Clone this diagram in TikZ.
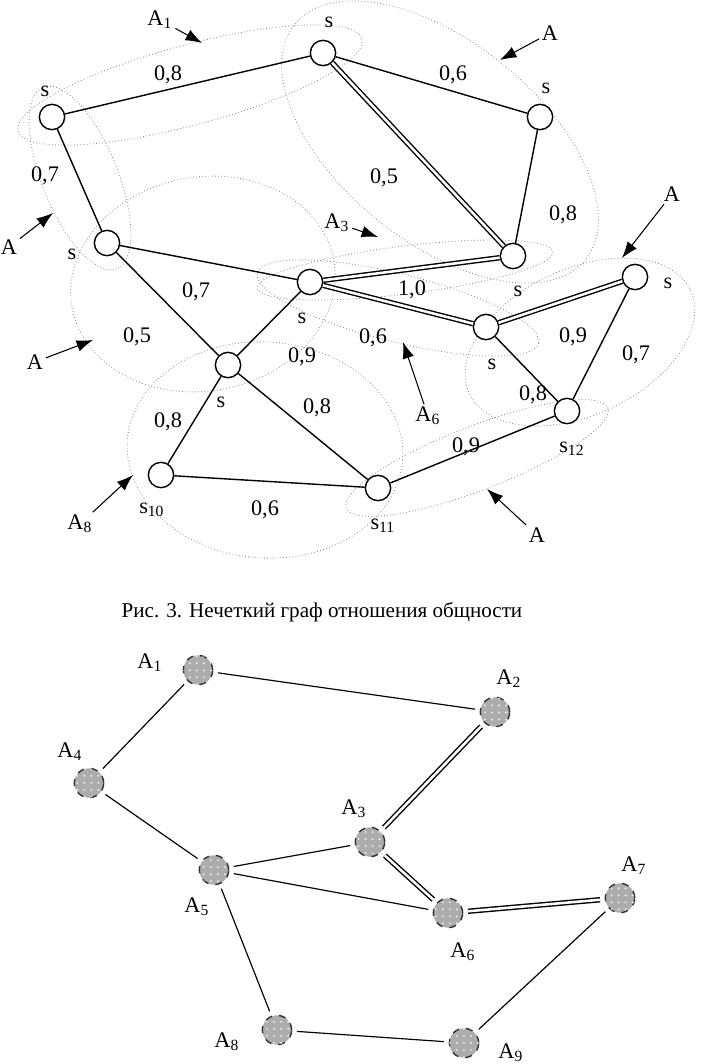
\documentclass[tikz,border=0pt]{standalone}
\usepackage{fontspec}
\setmainfont{Liberation Serif}
\usetikzlibrary{arrows.meta, patterns, calc}

\begin{document}
\begin{tikzpicture}[x=0.15mm, y=-0.15mm, font=\fontsize{9.5}{11}\selectfont, >={Latex[length=7pt,width=5pt]}]
    \tikzset{
        vert/.style={draw, circle, minimum size=3.8mm, inner sep=0pt, line width=0.6pt, fill=white},
        grp/.style={draw=black!80, circle, minimum size=4.4mm, inner sep=0pt, dashed, line width=0.6pt,
            fill=gray!65, postaction={pattern=dots, pattern color=white!80!gray}},
        set/.style={draw=gray!90, densely dotted, line width=0.35pt},
        edge/.style={draw, line width=0.6pt},
        strong/.style={draw, double, line width=0.6pt, double distance=1.1pt},
        link/.style={draw, line width=0.5pt, shorten <=2pt, shorten >=2pt},
        ptr/.style={draw, ->, line width=0.45pt},
        lbl/.style={inner sep=1pt},
    }
    \useasboundingbox (0,0) rectangle (709,1064);

    % fuzzy sets A1..A9
    \draw[set, rotate around={15:(190,85)}] (190,85) ellipse [x radius=178, y radius=40];
    \draw[set, rotate around={-39:(440,142)}] (440,142) ellipse [x radius=187, y radius=100];
    \draw[set, rotate around={7:(405,270)}] (405,270) ellipse [x radius=149, y radius=24];
    \draw[set, rotate around={-68:(80,178)}] (80,178) ellipse [x radius=98, y radius=38];
    \draw[set, rotate around={10:(203,284)}] (203,284) ellipse [x radius=133, y radius=107];
    \draw[set, rotate around={-14:(398,308)}] (398,308) ellipse [x radius=145, y radius=34];
    \draw[set, rotate around={25:(580,342)}] (580,342) ellipse [x radius=122, y radius=73];
    \draw[set, rotate around={-4:(265,450)}] (265,450) ellipse [x radius=138, y radius=108];
    \draw[set, rotate around={21:(477,458)}] (477,458) ellipse [x radius=140, y radius=32];

    % fuzzy graph
    \node[vert] (v1) at (52,117) {};
    \node[vert] (v2) at (323,53) {};
    \node[vert] (v3) at (540,117) {};
    \node[vert] (v4) at (107,243) {};
    \node[vert] (v5) at (310,282) {};
    \node[vert] (v6) at (513,256) {};
    \node[vert] (v7) at (635,277) {};
    \node[vert] (v8) at (486,327) {};
    \node[vert] (v9) at (228,365) {};
    \node[vert] (v10) at (161,475) {};
    \node[vert] (v11) at (378,488) {};
    \node[vert] (v12) at (567,411) {};

    \node[lbl] (s1) at (45,91) {s};
    \node[lbl] (s2) at (329,22) {s};
    \node[lbl] (s3) at (546,88) {s};
    \node[lbl] (s4) at (72,254) {s};
    \node[lbl] (s5) at (302,318) {s};
    \node[lbl] (s6) at (518,291) {s};
    \node[lbl] (s7) at (668,283) {s};
    \node[lbl] (s8) at (492,364) {s};
    \node[lbl] (s9) at (221,402) {s};
    \node[lbl] (s10) at (152,510) {s\textsubscript{10}};
    \node[lbl] (s11) at (383,526) {s\textsubscript{11}};
    \node[lbl] (s12) at (572,449) {s\textsubscript{12}};

    \draw[edge] (v1) -- (v2);
    \draw[edge] (v2) -- (v3);
    \draw[strong] (v2) -- (v6);
    \draw[edge] (v3) -- (v6);
    \draw[edge] (v1) -- (v4);
    \draw[edge] (v4) -- (v5);
    \draw[edge] (v4) -- (v9);
    \draw[strong] (v5) -- (v6);
    \draw[strong] (v5) -- (v8);
    \draw[edge] (v5) -- (v9);
    \draw[strong] (v8) -- (v7);
    \draw[edge] (v7) -- (v12);
    \draw[edge] (v8) -- (v12);
    \draw[edge] (v9) -- (v10);
    \draw[edge] (v9) -- (v11);
    \draw[edge] (v10) -- (v11);
    \draw[edge] (v11) -- (v12);

    \node[lbl] (w12) at (168,75) {0,8};
    \node[lbl] (w23) at (453,75) {0,6};
    \node[lbl] (w26) at (384,178) {0,5};
    \node[lbl] (w36) at (563,215) {0,8};
    \node[lbl] (w14) at (45,176) {0,7};
    \node[lbl] (w45) at (196,292) {0,7};
    \node[lbl] (w49) at (137,337) {0,5};
    \node[lbl] (w56) at (412,290) {1,0};
    \node[lbl] (w58) at (373,338) {0,6};
    \node[lbl] (w59) at (302,357) {0,9};
    \node[lbl] (w78) at (573,337) {0,9};
    \node[lbl] (w712) at (636,355) {0,7};
    \node[lbl] (w812) at (533,395) {0,8};
    \node[lbl] (w910) at (168,422) {0,8};
    \node[lbl] (w911) at (317,408) {0,8};
    \node[lbl] (w1011) at (265,510) {0,6};
    \node[lbl] (w1112) at (466,447) {0,9};

    % set names with pointers
    \node[lbl] (nA1) at (160,20) {A\textsubscript{1}};
    \node[lbl] (nA2) at (550,33) {A};
    \node[lbl] (nA3) at (337,223) {A\textsubscript{3}};
    \node[lbl] (nA4) at (9,247) {A};
    \node[lbl] (nA5) at (35,362) {A};
    \node[lbl] (nA6) at (428,416) {A\textsubscript{6}};
    \node[lbl] (nA7) at (672,194) {A};
    \node[lbl] (nA8) at (80,524) {A\textsubscript{8}};
    \node[lbl] (nA9) at (537,535) {A};
    \coordinate (tA1) at (202,43);
    \coordinate (tA2) at (500,60);
    \coordinate (tA3) at (378,237);
    \coordinate (tA4) at (53,213);
    \coordinate (tA5) at (93,340);
    \coordinate (tA6) at (403,342);
    \coordinate (tA7) at (622,258);
    \coordinate (tA8) at (133,475);
    \coordinate (tA9) at (487,489);
    \foreach \i in {1,...,9}{
        \draw[ptr] (nA\i) -- (tA\i);
    }

    \node[font=\fontsize{9}{11}\selectfont] (cap) at (322,612) {Рис. 3. Нечеткий граф отношения общности};

    % graph of the sets
    \node[grp] (g1) at (198,670) {};
    \node[grp] (g2) at (495,712) {};
    \node[grp] (g3) at (370,842) {};
    \node[grp] (g4) at (89,783) {};
    \node[grp] (g5) at (214,870) {};
    \node[grp] (g6) at (448,913) {};
    \node[grp] (g7) at (620,898) {};
    \node[grp] (g8) at (277,1030) {};
    \node[grp] (g9) at (464,1043) {};

    \node[lbl] (a1) at (150,663) {A\textsubscript{1}};
    \node[lbl] (a2) at (509,679) {A\textsubscript{2}};
    \node[lbl] (a3) at (354,809) {A\textsubscript{3}};
    \node[lbl] (a4) at (70,752) {A\textsubscript{4}};
    \node[lbl] (a5) at (197,907) {A\textsubscript{5}};
    \node[lbl] (a6) at (463,952) {A\textsubscript{6}};
    \node[lbl] (a7) at (634,866) {A\textsubscript{7}};
    \node[lbl] (a8) at (227,1042) {A\textsubscript{8}};
    \node[lbl] (a9) at (511,1053) {A\textsubscript{9}};

    \draw[link] (g1) -- (g2);
    \draw[link] (g1) -- (g4);
    \draw[link, strong] (g2) -- (g3);
    \draw[link] (g4) -- (g5);
    \draw[link] (g5) -- (g3);
    \draw[link, strong] (g3) -- (g6);
    \draw[link] (g5) -- (g6);
    \draw[link, strong] (g6) -- (g7);
    \draw[link] (g5) -- (g8);
    \draw[link] (g8) -- (g9);
    \draw[link] (g9) -- (g7);
\end{tikzpicture}
\end{document}
